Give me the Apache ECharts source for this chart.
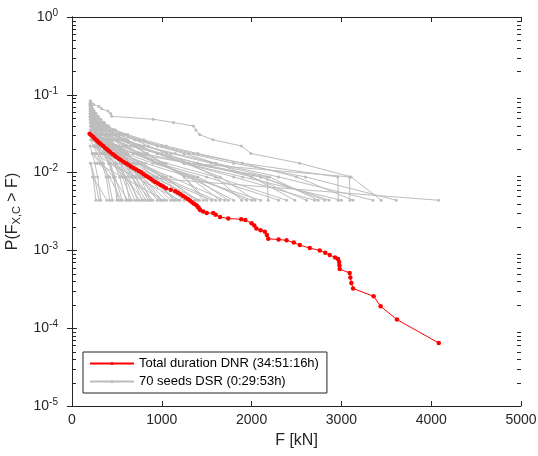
<!DOCTYPE html>
<html>
<head>
<meta charset="utf-8">
<script src="https://cdn.jsdelivr.net/npm/echarts@6/dist/echarts.min.js"></script>
<style>
html,body{margin:0;padding:0;background:#fff;}
#chart{width:538px;height:456px;}
</style>
</head>
<body>
<div id="chart"></div>
<script>
// ---------------- DATA ----------------
// Red: total duration DNR exceedance curve (F [kN], probability)
var redF = [196,214,233,251,270,288,306,326,347,367,388,408,429,452,475,498,521,546,573,601,628,655,684,714,744,772,797,823,849,874,900,926,957,987,1018,1048,1100,1150,1181,1209,1237,1264,1290,1313,1336,1359,1385,1400,1414,1426,1460,1500,1573,1600,1648,1740,1885,1930,2000,2030,2053,2100,2148,2170,2185,2300,2389,2470,2537,2648,2759,2820,2870,2930,2962,2975,2978,2981,3092,3100,3111,3130,3359,3437,3619,4084];
var redP = [0.0316,0.0302,0.0288,0.0275,0.0263,0.0251,0.0240,0.0229,0.0219,0.0209,0.0200,0.0191,0.0182,0.0174,0.0166,0.0158,0.0151,0.0145,0.0138,0.0132,0.0126,0.0120,0.0115,0.0110,0.0105,0.0100,0.00955,0.00912,0.00871,0.00832,0.00794,0.00759,0.00724,0.00692,0.00661,0.00631,0.00603,0.00575,0.00550,0.00525,0.00501,0.00479,0.00457,0.00437,0.00417,0.00398,0.00380,0.00363,0.00347,0.00331,0.00316,0.00302,0.00302,0.00288,0.00269,0.00257,0.00251,0.00245,0.00224,0.00209,0.00191,0.00182,0.00174,0.00158,0.00141,0.00138,0.00135,0.00126,0.00117,0.00107,0.00100,0.000933,0.000871,0.000813,0.000776,0.000708,0.000646,0.000575,0.000513,0.000447,0.000380,0.000324,0.000257,0.000191,0.000129,0.0000646];

// Gray: exceedance probability levels of the 70 seeds (rank 1 .. 19)
var seedLevels = [0.00441,0.00881,0.0132,0.0176,0.0220,0.0264,0.0308,0.0352,0.0396,0.0441,0.0485,0.0529,0.0573,0.0617,0.0661,0.0705,0.0749,0.0793,0.0837];

// Each seed: peak forces in ascending order (last one = largest, rank 1)
var seeds = [
[205,212,240,300,330,400,430,441,903,1129,1352,1380,1422,1570,1885,1992,2537,3108,3444],
[215,270,360,480,620,700,714,4081],
[220,280,380,520,700,950,1300,1800,2600,3611],
[210,270,380,540,800,1150,1600,2300,3352],
[205,240,300,380,480,620,800,1050,1400,1900,2500,3130],
[230,330,520,800,1300,3090,3095],
[208,250,320,420,560,750,1000,1350,1900,2960,2965],
[220,380,700,1300,2100,2863],
[212,280,380,520,720,1000,1400,2100,2814],
[210,260,330,430,580,800,1100,1550,2200,2741],
[225,320,450,650,950,1400,2000,2611],
[203,225,260,310,380,470,590,750,950,1250,1600,2000,2481],
[215,310,460,700,1050,1600,2389],
[218,290,390,520,700,950,1300,2170,2185],
[206,245,300,370,460,580,740,950,1250,1650,2037],
[240,380,600,900,1400,1944],
[202,220,250,290,340,400,480,580,700,850,1050,1300,1600,1889],
[220,290,380,500,680,950,1350,1741],
[210,255,310,380,470,590,750,970,1300,1648],
[250,380,600,950,1555],
[204,235,275,325,390,470,570,690,840,1020,1250,1463],
[225,310,420,570,780,1050,1370],
[212,250,300,370,460,580,760,1000,1296],
[260,420,700,1203],
[207,232,265,305,355,420,500,600,740,920,1129],
[230,310,420,570,780,1052],
[216,255,305,370,450,560,700,900],
[201,212,226,243,263,287,315,348,388,435,492,560,650,760,870],
[240,320,430,590,796],
[210,240,280,330,390,460,540,630,729],
[220,265,320,390,470,560,663],
[230,310,420,547],
[205,225,250,280,315,350,390,430,470,500],
[230,389],
[205,235,266],
[210,250,300],
[203,225,255,285,320],
[208,240,280,330,380,420],
[204,222,245,275,310,350,400,450],
[202,212,225,240,258,280,305,335,370,410,460,520],
[215,250,295,350,410,480,560],
[206,228,255,285,320,360,410,470,530,600],
[240,330,460,620],
[201,210,221,234,249,266,286,309,335,365,400,440,485,535,590,640],
[212,240,275,315,360,420,500,590,700],
[225,290,370,470,600,750],
[205,228,255,288,328,375,430,500,580,670,780],
[218,255,300,360,440,540,670,820],
[203,218,236,258,284,315,352,396,448,510,590,700,850],
[250,340,480,660,880],
[209,236,268,308,358,420,500,600,750,950],
[222,275,345,440,570,750,980],
[204,222,244,270,302,342,392,452,530,630,780,1000],
[280,560,1020],
[214,248,292,350,425,520,650,830,1100],
[202,214,229,247,268,294,325,362,408,465,540,650,850,1150],
[235,310,420,600,850,1180],
[208,232,262,300,350,415,500,640,880,1250],
[217,260,320,400,510,680,950,1320],
[206,230,260,297,345,405,480,590,760,1020,1400],
[260,380,580,900,1420],
[200,210,222,237,255,277,303,335,375,425,490,570,680,820,1000,1250,1500],
[213,246,290,350,430,550,720,1000,1600],
[228,290,380,510,720,1100,1700],
[205,232,265,305,355,420,500,610,760,950,1300,1800],
[211,250,300,365,450,560,720,950,1350,2000],
[238,360,540,820,1300,2100],
[219,285,370,490,680,950,1500,2300],
[203,225,255,295,345,410,490,600,750,950,1250,1800,2700],
[200,208,218,231,247,267,292,322,360,405,460,530,620,750,950,1250,1900,3000]
];

var xTicks = [0,1000,2000,3000,4000,5000];
var yDecades = [-5,-4,-3,-2,-1,0];
var minorMultipliers = [2,3,4,5,6,7,8,9];
var redName = 'Total duration DNR (34:51:16h)';
var grayName = '70 seeds DSR (0:29:53h)';

// ---------------- CHART ----------------
var FONT = '"Liberation Sans", Arial, Helvetica, sans-serif';
var AX = '#262626';
var GRAY = '#bdbdbd';
var chart = echarts.init(document.getElementById('chart'), null, {renderer: 'canvas'});

var series = [];
seeds.forEach(function (s) {
  var n = s.length;
  var data = s.map(function (f, i) { return [f, seedLevels[n - 1 - i]]; });
  series.push({
    name: grayName, type: 'line', data: data,
    symbol: 'circle', symbolSize: 3, showSymbol: true,
    lineStyle: {color: GRAY, width: 1},
    itemStyle: {color: GRAY},
    silent: true, animation: false, z: 2
  });
});
series.push({
  name: redName, type: 'line',
  data: redF.map(function (f, i) { return [f, redP[i]]; }),
  symbol: 'circle', symbolSize: 4.5, showSymbol: true,
  lineStyle: {color: '#ff0000', width: 1},
  itemStyle: {color: '#ff0000'},
  silent: true, animation: false, z: 3
});

// minor log ticks on left and right frame (drawn through the axis scale)
var minorVals = [];
for (var d = 0; d < yDecades.length - 1; d++) {
  minorMultipliers.forEach(function (m) { minorVals.push([xTicks[0], m * Math.pow(10, yDecades[d])]); });
}
series.push({
  name: '__minor', type: 'custom', data: minorVals, silent: true, animation: false, z: 10, clip: false,
  renderItem: function (params, api) {
    var v = api.value(1);
    var pL = api.coord([xTicks[0], v]);
    var pR = api.coord([xTicks[xTicks.length - 1], v]);
    var y = Math.round(pL[1]) + 0.5;
    return {type: 'group', children: [
      {type: 'line', shape: {x1: pL[0], y1: y, x2: pL[0] + 4, y2: y}, style: {stroke: AX, lineWidth: 1}},
      {type: 'line', shape: {x1: pR[0] - 4, y1: y, x2: pR[0], y2: y}, style: {stroke: AX, lineWidth: 1}}
    ]};
  }
});

function supLabel(v) {
  var e = Math.round(Math.log10(v));
  return '{b|10}{sup|' + e + '}';
}

var option = {
  backgroundColor: '#fff',
  animation: false,
  textStyle: {fontFamily: FONT},
  grid: {left: 72, right: 17, top: 17, bottom: 50, containLabel: false, outerBoundsMode: 'none'},
  legend: {
    data: [redName, grayName],
    orient: 'vertical', left: 83, top: 352,
    backgroundColor: '#fff', borderColor: AX, borderWidth: 1, borderRadius: 0,
    padding: [4, 8, 4, 6], itemGap: 3, itemWidth: 44, itemHeight: 4,
    textStyle: {fontSize: 13, color: '#000', fontFamily: FONT, lineHeight: 15},
    selectedMode: false
  },
  xAxis: [{
    type: 'value', min: xTicks[0], max: xTicks[xTicks.length - 1], interval: 1000,
    position: 'bottom',
    axisLine: {show: true, lineStyle: {color: AX, width: 1}},
    axisTick: {show: true, inside: true, length: 5, lineStyle: {color: AX}},
    axisLabel: {color: AX, fontSize: 14, fontFamily: FONT, margin: 7, formatter: function (v) { return String(v); }},
    splitLine: {show: false},
    name: 'F [kN]', nameLocation: 'middle', nameGap: 27,
    nameTextStyle: {fontSize: 16, color: AX, fontFamily: FONT}
  }, {
    type: 'value', min: xTicks[0], max: xTicks[xTicks.length - 1], interval: 1000,
    position: 'top',
    axisLine: {show: true, lineStyle: {color: AX, width: 1}},
    axisTick: {show: true, inside: true, length: 5, lineStyle: {color: AX}},
    axisLabel: {show: false}, splitLine: {show: false}
  }],
  yAxis: [{
    type: 'log', logBase: 10, min: 1e-5, max: 1, splitNumber: 5,
    position: 'left',
    axisLine: {show: true, lineStyle: {color: AX, width: 1}},
    axisTick: {show: true, inside: true, length: 5, lineStyle: {color: AX}},
    axisLabel: {
      color: AX, fontFamily: FONT, margin: 14, formatter: supLabel,
      rich: {
        b: {fontSize: 14, color: AX, fontFamily: FONT},
        sup: {fontSize: 10, color: AX, fontFamily: FONT, padding: [0, 0, 8, 0], lineHeight: 10}
      }
    },
    splitLine: {show: false},
    name: 'P(F{sub|X,C} > F)', nameLocation: 'middle', nameGap: 44, nameRotate: 90,
    nameTextStyle: {
      fontSize: 16, color: AX, fontFamily: FONT,
      rich: {sub: {fontSize: 11, color: AX, fontFamily: FONT, padding: [9, 0, 0, 0], lineHeight: 11}}
    }
  }, {
    type: 'log', logBase: 10, min: 1e-5, max: 1, splitNumber: 5,
    position: 'right',
    axisLine: {show: true, lineStyle: {color: AX, width: 1}},
    axisTick: {show: true, inside: true, length: 5, lineStyle: {color: AX}},
    axisLabel: {show: false}, splitLine: {show: false}
  }],
  series: series
};
chart.setOption(option);
</script>
</body>
</html>
